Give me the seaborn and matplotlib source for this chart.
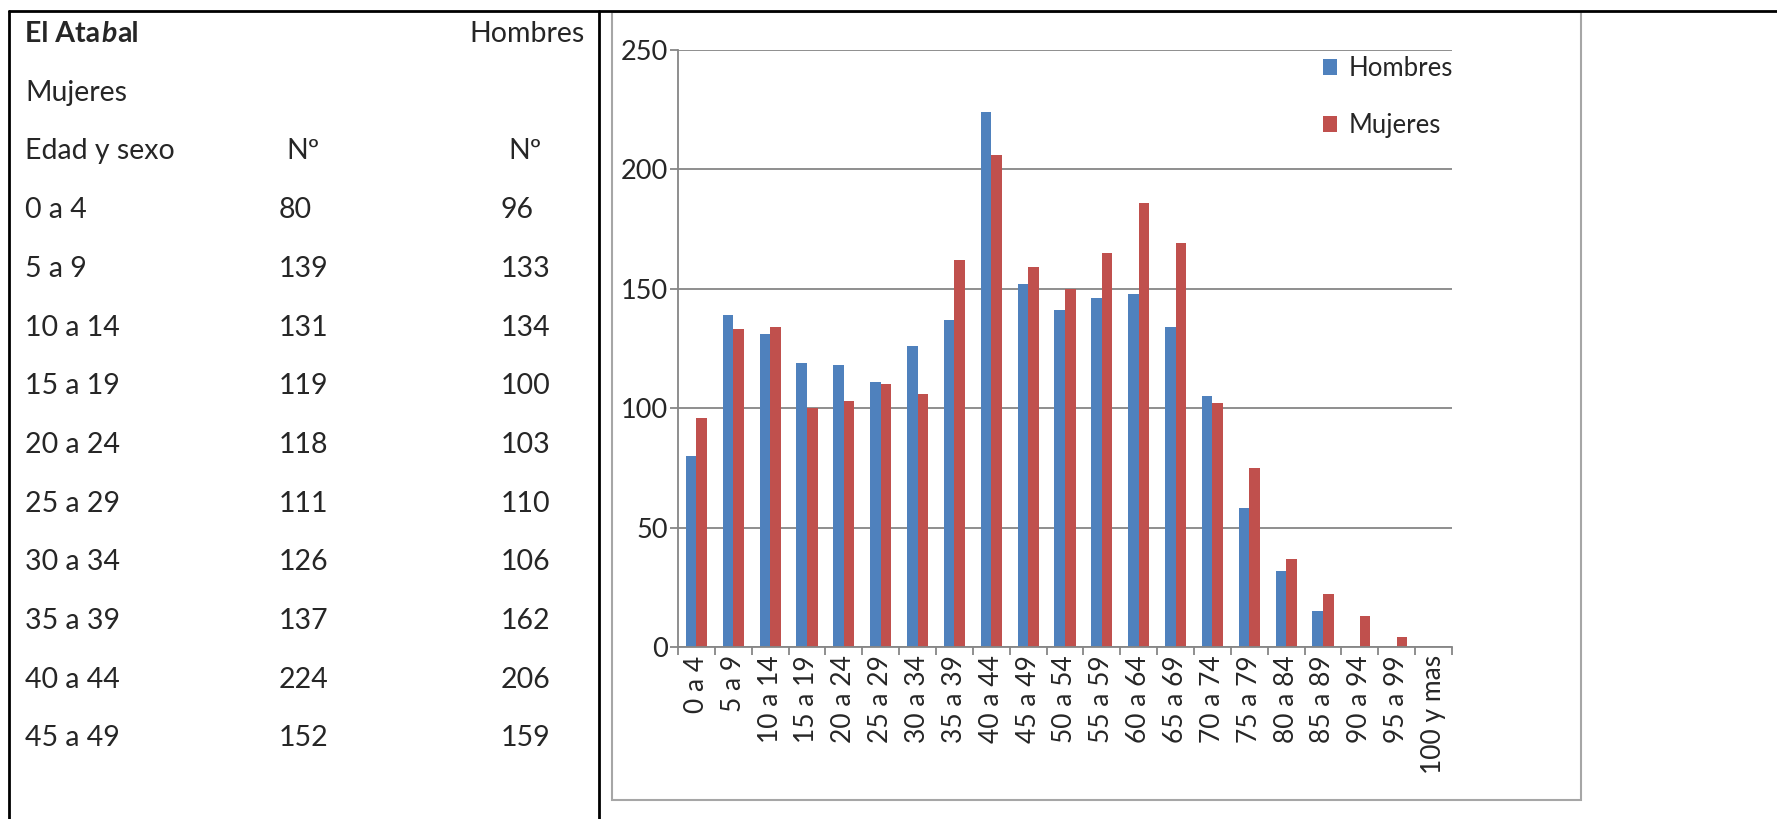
import matplotlib
matplotlib.use('Agg')
import matplotlib.pyplot as plt
import seaborn as sns
import pandas as pd
from matplotlib.lines import Line2D
from matplotlib.patches import Rectangle

# datos
edades = ['0 a 4', '5 a 9', '10 a 14', '15 a 19', '20 a 24', '25 a 29', '30 a 34',
          '35 a 39', '40 a 44', '45 a 49', '50 a 54', '55 a 59', '60 a 64', '65 a 69',
          '70 a 74', '75 a 79', '80 a 84', '85 a 89', '90 a 94', '95 a 99', '100 y mas']
hombres = [80, 139, 131, 119, 118, 111, 126, 137, 224, 152, 141, 146, 148, 134,
           105, 58, 32, 15, 0, 0, 0]
mujeres = [96, 133, 134, 100, 103, 110, 106, 162, 206, 159, 150, 165, 186, 169,
           102, 75, 37, 22, 13, 4, 0]
y_ticks = [0, 50, 100, 150, 200, 250]
filas_tabla = 10

df = pd.DataFrame({
    'edad': edades * 2,
    'sexo': ['Hombres'] * len(edades) + ['Mujeres'] * len(edades),
    'n': hombres + mujeres,
})

sns.set_theme(style='white')
plt.rcParams['font.family'] = ['Lato', 'DejaVu Sans']

W, H = 1777, 819
fig = plt.figure(figsize=(W / 100, H / 100), dpi=100)
fig.patch.set_facecolor('white')


def fx(x):
    return x / W


def fy(y):
    return 1 - y / H


gris = '#868686'

# grafico
ax = fig.add_axes([fx(678), fy(647), fx(1452) - fx(678), fy(50) - fy(647)])
sns.barplot(data=df, x='edad', y='n', hue='sexo', order=edades,
            palette=['#4F81BD', '#C0504D'], width=0.57, saturation=1,
            errorbar=None, linewidth=0, ax=ax)
ax.set_xlim(-0.5, len(edades) - 0.5)
ax.set_ylim(0, 250)
ax.set_yticks(y_ticks)
ax.set_xlabel('')
ax.set_ylabel('')
ax.yaxis.grid(True, color=gris, lw=1.3)
ax.xaxis.grid(False)
ax.set_axisbelow(True)
for s in ['top', 'right']:
    ax.spines[s].set_visible(False)
for s in ['left', 'bottom']:
    ax.spines[s].set_color(gris)
    ax.spines[s].set_linewidth(1.3)
ax.set_xticks(range(len(edades)))
ax.set_xticklabels(edades, rotation=90)
ax.set_xticks([i - 0.5 for i in range(len(edades) + 1)], minor=True)
ax.tick_params(axis='x', which='major', length=0, pad=6, labelsize=19)
ax.tick_params(axis='x', which='minor', length=6, width=1.3, color=gris, direction='out', bottom=True)
ax.tick_params(axis='y', length=6, width=1.3, color=gris, pad=1, labelsize=19.5, left=True)

handles, labels = ax.get_legend_handles_labels()
ax.legend(handles, labels, loc='upper left', bbox_to_anchor=(fx(1323), fy(56)),
          bbox_transform=fig.transFigure, frameon=False, fontsize=18.5,
          handlelength=0.55, handleheight=0.55, handletextpad=0.45,
          labelspacing=1.25, borderaxespad=0, borderpad=0)

# marcos
fig.add_artist(Rectangle((fx(612), fy(800)), fx(1581) - fx(612), fy(12) - fy(800),
                         transform=fig.transFigure, fill=False, edgecolor='#A6A6A6', lw=1.5))
negro = dict(transform=fig.transFigure, color='black', lw=2)
fig.add_artist(Line2D([fx(9), 1], [fy(11), fy(11)], **negro))
fig.add_artist(Line2D([fx(9), fx(9)], [fy(11), 0], **negro))
fig.add_artist(Line2D([fx(599), fx(599)], [fy(11), 0], **negro))

# tabla
fs = 20.5
base = [42 + 58.7 * i for i in range(3 + filas_tabla)]
renderer = fig.canvas.get_renderer()
x = fx(25)
for parte, estilo in [('El Ata', 'normal'), ('b', 'italic'), ('al', 'normal')]:
    t = fig.text(x, fy(base[0]), parte, fontsize=fs, weight='bold', style=estilo, va='baseline')
    x = t.get_window_extent(renderer).x1 / W + 0.0005
fig.text(fx(585), fy(base[0]), 'Hombres', fontsize=fs, ha='right', va='baseline')
fig.text(fx(25), fy(base[1]), 'Mujeres', fontsize=fs, va='baseline')
fig.text(fx(25), fy(base[2]), 'Edad y sexo', fontsize=fs, va='baseline')
fig.text(fx(303), fy(base[2]), 'Nº', fontsize=fs, ha='center', va='baseline')
fig.text(fx(525), fy(base[2]), 'Nº', fontsize=fs, ha='center', va='baseline')
for i in range(filas_tabla):
    yb = fy(base[3 + i])
    fig.text(fx(25), yb, edades[i], fontsize=fs, va='baseline')
    fig.text(fx(279), yb, str(hombres[i]), fontsize=fs, va='baseline')
    fig.text(fx(501), yb, str(mujeres[i]), fontsize=fs, va='baseline')

fig.savefig('out.png', dpi=100, facecolor='white')
